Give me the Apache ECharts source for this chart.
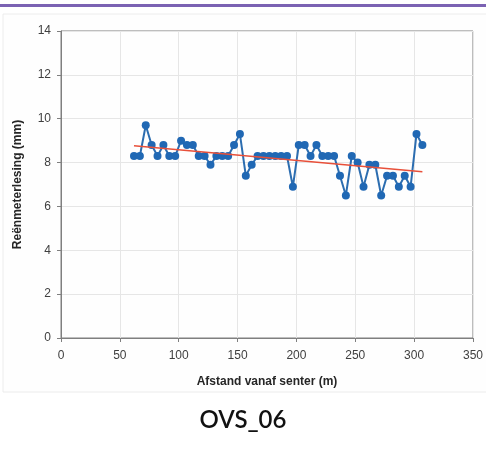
<!DOCTYPE html>
<html>
<head>
<meta charset="utf-8">
<script src="https://cdn.jsdelivr.net/npm/echarts@6/dist/echarts.min.js"></script>
<style>
  html, body { margin: 0; padding: 0; background: #fff; }
  #chart { width: 486px; height: 454px; }
</style>
</head>
<body>
<div id="chart"></div>
<script>
// distance from centre (m) and rain gauge reading (mm)
var distance = [62, 67, 72, 77, 82, 87, 92, 97, 102, 107,
  112, 117, 122, 127, 132, 137, 142, 147, 152, 157,
  162, 167, 172, 177, 182, 187, 192, 197, 202, 207,
  212, 217, 222, 227, 232, 237, 242, 247, 252, 257,
  262, 267, 272, 277, 282, 287, 292, 297, 302, 307]
var reading = [8.3, 8.3, 9.7, 8.8, 8.3, 8.8, 8.3, 8.3, 9.0, 8.8,
  8.8, 8.3, 8.3, 7.9, 8.3, 8.3, 8.3, 8.8, 9.3, 7.4,
  7.9, 8.3, 8.3, 8.3, 8.3, 8.3, 8.3, 6.9, 8.8, 8.8,
  8.3, 8.8, 8.3, 8.3, 8.3, 7.4, 6.5, 8.3, 8.0, 6.9,
  7.9, 7.9, 6.5, 7.4, 7.4, 6.9, 7.4, 6.9, 9.3, 8.8]
// linear trend end points
var trendX = [62, 307]
var trendY = [8.77, 7.58]

var xTicks = [0, 50, 100, 150, 200, 250, 300, 350]
var yTicks = [0, 2, 4, 6, 8, 10, 12, 14]

var font = 'Liberation Sans'
var chart = echarts.init(document.getElementById('chart'))

var option = {
  backgroundColor: '#fff',
  animation: false,
  title: {
    text: 'OVS_06',
    left: 'center',
    top: 403,
    textStyle: { fontFamily: 'Lato', fontSize: 24, fontWeight: 600, color: '#111' }
  },
  graphic: [
    { type: 'rect', z: -10, shape: { x: 0, y: 4, width: 486, height: 3 }, style: { fill: '#7b62b3' } },
    { type: 'rect', z: -10, shape: { x: 3, y: 14, width: 486, height: 378 },
      style: { fill: '#fefefe', stroke: '#ececec', lineWidth: 1 } }
  ],
  grid: { left: 61, right: 13, top: 31, bottom: 116, show: true, borderColor: '#7f7f7f', borderWidth: 1 },
  xAxis: {
    type: 'value',
    min: xTicks[0],
    max: xTicks[xTicks.length - 1],
    interval: 50,
    name: 'Afstand vanaf senter (m)',
    nameLocation: 'middle',
    nameGap: 38,
    nameTextStyle: { fontFamily: font, fontSize: 12, fontWeight: 'bold', color: '#262626' },
    axisLine: { show: true, lineStyle: { color: '#7f7f7f' } },
    axisTick: { show: true, length: 4, lineStyle: { color: '#7f7f7f' } },
    axisLabel: { fontFamily: font, fontSize: 12, color: '#404040', margin: 12 },
    splitLine: { show: true, lineStyle: { color: '#e6e6e6' } }
  },
  yAxis: {
    type: 'value',
    min: yTicks[0],
    max: yTicks[yTicks.length - 1],
    interval: 2,
    name: 'Reënmeterlesing (mm)',
    nameLocation: 'middle',
    nameGap: 37,
    nameTextStyle: { fontFamily: font, fontSize: 12, fontWeight: 'bold', color: '#262626' },
    axisLine: { show: true, lineStyle: { color: '#7f7f7f' } },
    axisTick: { show: true, length: 4, lineStyle: { color: '#7f7f7f' } },
    axisLabel: { fontFamily: font, fontSize: 12, color: '#404040', margin: 10 },
    splitLine: { show: true, lineStyle: { color: '#e6e6e6' } }
  },
  series: [
    {
      name: 'reading',
      type: 'line',
      data: distance.map(function (d, i) { return [d, reading[i]] }),
      symbol: 'circle',
      symbolSize: 8,
      lineStyle: { color: '#2c6db0', width: 2 },
      itemStyle: { color: '#2068b4' },
      z: 2
    },
    {
      name: 'trend',
      type: 'line',
      data: trendX.map(function (d, i) { return [d, trendY[i]] }),
      symbol: 'none',
      lineStyle: { color: '#e8503a', width: 1.5 },
      z: 3
    }
  ]
}

chart.setOption(option)
</script>
</body>
</html>
